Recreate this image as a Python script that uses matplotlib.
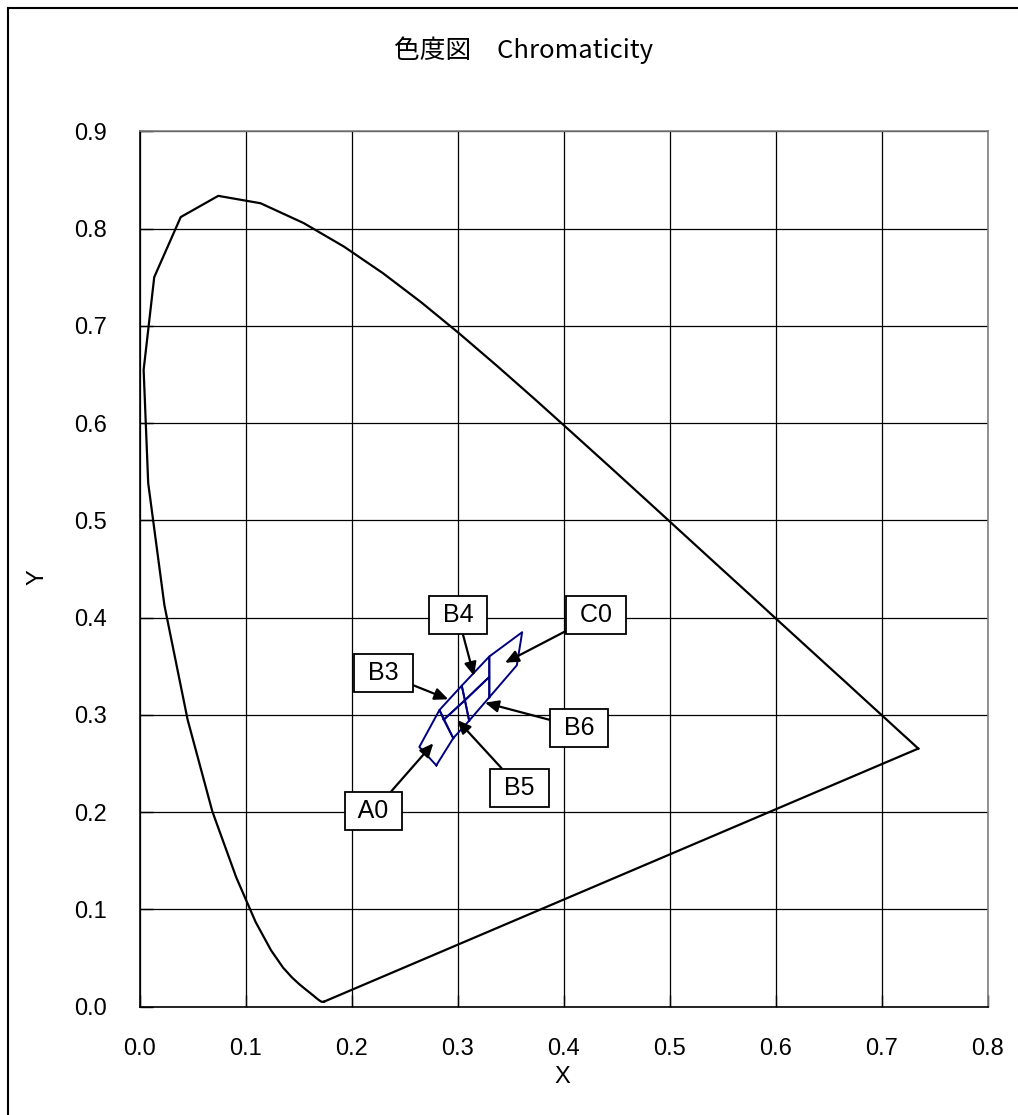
import matplotlib
matplotlib.use("Agg")
import matplotlib.pyplot as plt
from matplotlib.lines import Line2D

plt.rcParams['font.family'] = ['Liberation Sans', 'Noto Sans CJK JP', 'DejaVu Sans']

# Spectral locus (CIE 1931, 380-700 nm, 5 nm steps)
locus_x = [0.1741, 0.1740, 0.1738, 0.1736, 0.1733, 0.1730, 0.1726, 0.1721, 0.1714, 0.1703,
           0.1689, 0.1669, 0.1644, 0.1611, 0.1566, 0.1510, 0.1440, 0.1355, 0.1241, 0.1096,
           0.0913, 0.0687, 0.0454, 0.0235, 0.0082, 0.0039, 0.0139, 0.0389, 0.0743, 0.1142,
           0.1547, 0.1929, 0.2296, 0.2658, 0.3016, 0.3373, 0.3731, 0.4087, 0.4441, 0.4788,
           0.5125, 0.5448, 0.5752, 0.6029, 0.6270, 0.6482, 0.6658, 0.6801, 0.6915, 0.7006,
           0.7079, 0.7140, 0.7190, 0.7230, 0.7260, 0.7283, 0.7300, 0.7311, 0.7320, 0.7327,
           0.7334, 0.7340, 0.7344, 0.7346, 0.7347]
locus_y = [0.0050, 0.0050, 0.0049, 0.0049, 0.0048, 0.0048, 0.0048, 0.0048, 0.0051, 0.0058,
           0.0069, 0.0086, 0.0109, 0.0138, 0.0177, 0.0227, 0.0297, 0.0399, 0.0578, 0.0868,
           0.1327, 0.2007, 0.2950, 0.4127, 0.5384, 0.6548, 0.7502, 0.8120, 0.8338, 0.8262,
           0.8059, 0.7816, 0.7543, 0.7243, 0.6923, 0.6589, 0.6245, 0.5896, 0.5547, 0.5202,
           0.4866, 0.4544, 0.4242, 0.3965, 0.3725, 0.3514, 0.3340, 0.3197, 0.3083, 0.2993,
           0.2920, 0.2859, 0.2809, 0.2770, 0.2740, 0.2717, 0.2700, 0.2689, 0.2680, 0.2673,
           0.2666, 0.2660, 0.2656, 0.2654, 0.2653]

# Chromaticity ranks (quadrangles)
rank_names = ['A0', 'B3', 'B4', 'B5', 'B6', 'C0']
rank_x = [[0.280, 0.264, 0.283, 0.296],
          [0.287, 0.283, 0.304, 0.307],
          [0.307, 0.304, 0.330, 0.330],
          [0.296, 0.287, 0.307, 0.311],
          [0.311, 0.307, 0.330, 0.330],
          [0.330, 0.330, 0.361, 0.356]]
rank_y = [[0.248, 0.267, 0.305, 0.276],
          [0.295, 0.305, 0.330, 0.315],
          [0.315, 0.330, 0.360, 0.339],
          [0.276, 0.295, 0.315, 0.294],
          [0.294, 0.315, 0.339, 0.318],
          [0.318, 0.360, 0.385, 0.351]]

# Label box positions and arrow targets
label_x = [0.2210, 0.2302, 0.3003, 0.3585, 0.4148, 0.4308]
label_y = [0.2008, 0.3427, 0.4024, 0.2250, 0.2868, 0.4024]
target_x = [0.2772, 0.2913, 0.3156, 0.2998, 0.3259, 0.3448]
target_y = [0.2707, 0.3160, 0.3400, 0.2947, 0.3125, 0.3536]

x_ticks = [0.0, 0.1, 0.2, 0.3, 0.4, 0.5, 0.6, 0.7, 0.8]
y_ticks = [0.0, 0.1, 0.2, 0.3, 0.4, 0.5, 0.6, 0.7, 0.8, 0.9]

W, H = 1018, 1115
fig = plt.figure(figsize=(W / 100, H / 100), dpi=100)
ax = fig.add_axes([139.5 / W, 1 - 1006.5 / H, (987.5 - 139.5) / W, (1006.5 - 131.5) / H])

# figure border (left and top visible)
fig.add_artist(Line2D([8 / W, 8 / W], [0, 1 - 8 / H], color='black', lw=1.5, transform=fig.transFigure))
fig.add_artist(Line2D([8 / W, 1], [1 - 8 / H, 1 - 8 / H], color='black', lw=1.5, transform=fig.transFigure))

ax.plot(locus_x, locus_y, color='black', lw=1.6, zorder=3)
ax.plot([locus_x[-1], locus_x[0]], [locus_y[-1], locus_y[0]], color='black', lw=1.6, zorder=3)

for xs, ys in zip(rank_x, rank_y):
    ax.plot(xs + [xs[0]], ys + [ys[0]], color='#000080', lw=1.4, zorder=4)

for name, lx, ly, tx, ty in zip(rank_names, label_x, label_y, target_x, target_y):
    ax.annotate(' ' + name + ' ', xy=(tx, ty), xytext=(lx, ly),
                ha='center', va='center', fontsize=18, zorder=6,
                bbox=dict(boxstyle='square,pad=0.28', fc='white', ec='black', lw=1.3),
                arrowprops=dict(arrowstyle='-|>,head_length=0.45,head_width=0.2',
                                color='black', lw=1.6, shrinkA=0, shrinkB=0))

ax.set_xlim(0, 0.8)
ax.set_ylim(0, 0.9)
ax.set_xticks(x_ticks)
ax.set_yticks(y_ticks)
ax.set_xticklabels([f'{v:.1f}' for v in x_ticks])
ax.set_yticklabels([f'{v:.1f}' for v in y_ticks])
ax.tick_params(direction='in', length=9, width=1, labelsize=17, color='black')
ax.tick_params(axis='y', pad=23.5)
ax.tick_params(axis='x', pad=22.5)
ax.grid(True, color='black', lw=0.9)
ax.set_axisbelow(True)
for s in ['top', 'right']:
    ax.spines[s].set_color('#808080')
for s in ['left', 'bottom']:
    ax.spines[s].set_color('black')
for s in ax.spines.values():
    s.set_linewidth(1.2)

fig.text(524 / W, 1 - 50 / H, '色度図\u3000Chromaticity', ha='center', va='center', fontsize=18.5,
         family=['Noto Sans CJK JP', 'DejaVu Sans'])
fig.text(562 / W, 1 - 1077 / H, 'X', ha='center', va='center', fontsize=17)
fig.text(38 / W, 1 - 577 / H, 'Y', ha='center', va='center', fontsize=17, rotation=90)

fig.savefig('out.png', dpi=100)
